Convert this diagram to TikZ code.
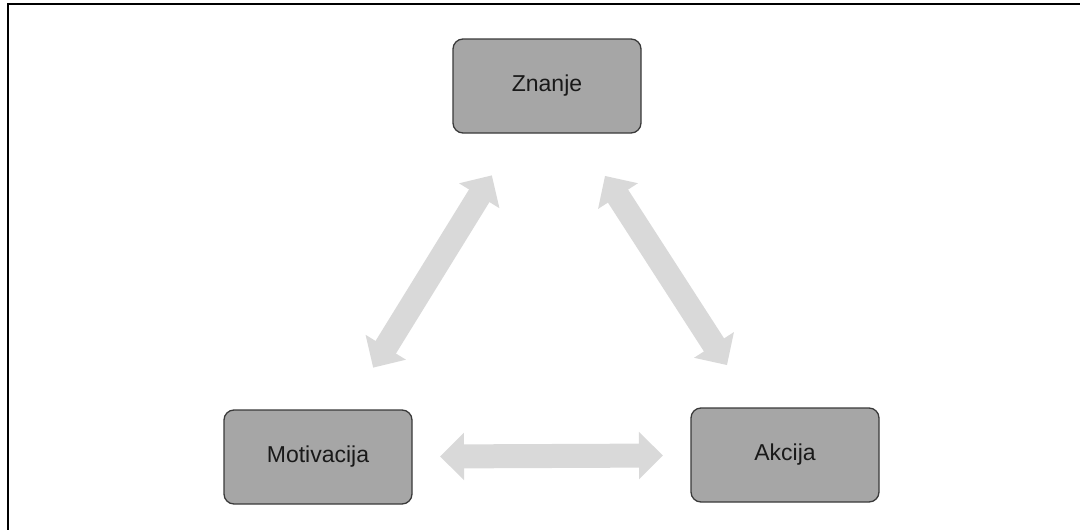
\documentclass[tikz,border=0pt]{standalone}
\usepackage{fontspec}
\setmainfont{Liberation Sans}
\usetikzlibrary{arrows.meta}
\definecolor{boxfill}{HTML}{A6A6A6}
\definecolor{boxline}{HTML}{3A3A3A}
\definecolor{arrowgray}{HTML}{D9D9D9}
\begin{document}
\begin{tikzpicture}[x=1pt,y=-1pt,
  stepbox/.style={draw=boxline,line width=1.3pt,fill=boxfill,rounded corners=10pt,
    minimum width=188pt,minimum height=94pt,inner sep=0pt,
    font=\fontsize{23}{27}\selectfont,text=black!90},
  bigarrow/.style={draw=arrowgray,line width=24pt,
    {Triangle[width=46pt,length=24pt]}-{Triangle[width=46pt,length=24pt]}}]
\useasboundingbox (0,0) rectangle (1080,530);
\draw[line width=2pt] (7.5,540) -- (7.5,4) -- (1090,4);
\node[stepbox] (zn) at (547,86) {Znanje};
\node[stepbox] (mo) at (318,457) {Motivacija};
\node[stepbox] (ak) at (785,455) {Akcija};
\draw[bigarrow,shorten <=105pt,shorten >=105pt] (mo.center) -- (zn.center);
\draw[bigarrow,shorten <=107pt,shorten >=107pt] (ak.center) -- (zn.center);
\draw[bigarrow,shorten <=122pt,shorten >=122pt] (mo.center) -- (ak.center);
\end{tikzpicture}
\end{document}
